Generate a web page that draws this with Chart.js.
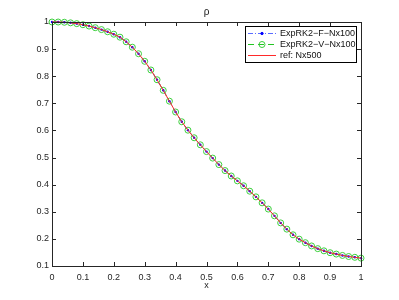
<!DOCTYPE html>
<html lang="en">
<head>
  <meta charset="UTF-8">
  <script src="https://cdn.jsdelivr.net/npm/chart.js"></script>
  <style>
    body { margin: 0; background: #fff; }
    #rho { display: block; }
  </style>
</head>
<body>
  <canvas id="rho" width="399" height="300"></canvas>
<script>
  // x positions and rho values
  const xs = [0, 0.02, 0.04, 0.06, 0.08, 0.1, 0.12, 0.14, 0.16, 0.18,
    0.2, 0.22, 0.24, 0.26, 0.28, 0.3, 0.32, 0.34, 0.36, 0.38,
    0.4, 0.42, 0.44, 0.46, 0.48, 0.5, 0.52, 0.54, 0.56, 0.58,
    0.6, 0.62, 0.64, 0.66, 0.68, 0.7, 0.72, 0.74, 0.76, 0.78,
    0.8, 0.82, 0.84, 0.86, 0.88, 0.9, 0.92, 0.94, 0.96, 0.98, 1];
  const rhoF = [1.000, 1.000, 0.999, 0.997, 0.994, 0.990, 0.985, 0.979, 0.972, 0.964,
    0.955, 0.944, 0.927, 0.907, 0.883, 0.855, 0.823, 0.787, 0.748, 0.708,
    0.668, 0.632, 0.601, 0.573, 0.547, 0.522, 0.498, 0.474, 0.452, 0.432,
    0.414, 0.396, 0.376, 0.355, 0.333, 0.310, 0.285, 0.259, 0.236, 0.215,
    0.199, 0.186, 0.174, 0.164, 0.156, 0.149, 0.144, 0.139, 0.135, 0.132, 0.129];
  const rhoV = [1.000, 1.000, 0.999, 0.997, 0.994, 0.990, 0.985, 0.979, 0.972, 0.964,
    0.955, 0.944, 0.927, 0.907, 0.883, 0.855, 0.823, 0.787, 0.748, 0.708,
    0.668, 0.632, 0.601, 0.573, 0.547, 0.522, 0.498, 0.474, 0.452, 0.432,
    0.414, 0.396, 0.376, 0.355, 0.333, 0.310, 0.285, 0.259, 0.236, 0.215,
    0.199, 0.186, 0.174, 0.164, 0.156, 0.149, 0.144, 0.139, 0.135, 0.132, 0.129];
  const rhoRef = [1.000, 1.000, 0.999, 0.997, 0.994, 0.990, 0.985, 0.979, 0.972, 0.964,
    0.955, 0.944, 0.927, 0.907, 0.883, 0.855, 0.823, 0.787, 0.748, 0.708,
    0.668, 0.632, 0.601, 0.573, 0.547, 0.522, 0.498, 0.474, 0.452, 0.432,
    0.414, 0.396, 0.376, 0.355, 0.333, 0.310, 0.285, 0.259, 0.236, 0.215,
    0.199, 0.186, 0.174, 0.164, 0.156, 0.149, 0.144, 0.139, 0.135, 0.132, 0.129];
  const xTicks = [0, 0.1, 0.2, 0.3, 0.4, 0.5, 0.6, 0.7, 0.8, 0.9, 1];
  const yTicks = [0.1, 0.2, 0.3, 0.4, 0.5, 0.6, 0.7, 0.8, 0.9, 1];
  const labels = ['ExpRK2\u2212F\u2212Nx100', 'ExpRK2\u2212V\u2212Nx100', 'ref: Nx500'];

  const FONT = '"Liberation Sans", Arial, sans-serif';
  const pts = (vals) => vals.map((v, i) => ({ x: xs[i], y: v }));

  // matlab look: box, inward ticks, title, xlabel and legend inside the axes
  const matlabAxes = {
    id: 'matlabAxes',
    afterDraw(chart) {
      const ctx = chart.ctx;
      const { left, right, top, bottom } = chart.chartArea;
      const sx = chart.scales.x, sy = chart.scales.y;
      ctx.save();
      ctx.strokeStyle = '#262626';
      ctx.lineWidth = 1;
      ctx.strokeRect(left + 0.5, top + 0.5, right - left, bottom - top);
      ctx.beginPath();
      xTicks.forEach(t => {
        const px = Math.round(sx.getPixelForValue(t)) + 0.5;
        ctx.moveTo(px, bottom); ctx.lineTo(px, bottom - 4);
        ctx.moveTo(px, top); ctx.lineTo(px, top + 4);
      });
      yTicks.forEach(t => {
        const py = Math.round(sy.getPixelForValue(t)) + 0.5;
        ctx.moveTo(left, py); ctx.lineTo(left + 4, py);
        ctx.moveTo(right, py); ctx.lineTo(right - 4, py);
      });
      ctx.stroke();

      ctx.fillStyle = '#222';
      ctx.textAlign = 'center';
      ctx.textBaseline = 'middle';
      ctx.font = '10px ' + FONT;
      ctx.fillText('\u03c1', (left + right) / 2, 12);
      ctx.font = '9px ' + FONT;
      ctx.fillText('x', (left + right) / 2, 286);

      // legend
      const bx = 245, by = 26, bw = 111, bh = 36;
      ctx.fillStyle = '#fff';
      ctx.fillRect(bx, by, bw, bh);
      ctx.strokeStyle = '#000';
      ctx.strokeRect(bx + 0.5, by + 0.5, bw, bh);
      const rows = [33.5, 44.5, 55.5];
      const ds = chart.data.datasets;
      rows.forEach((ry, i) => {
        const d = ds[i];
        ctx.strokeStyle = d.borderColor;
        ctx.lineWidth = d.borderWidth;
        ctx.setLineDash(d.borderDash || []);
        ctx.beginPath();
        ctx.moveTo(248, ry); ctx.lineTo(276, ry);
        ctx.stroke();
        ctx.setLineDash([]);
        if (d.pointRadius > 0) {
          ctx.beginPath();
          ctx.arc(262, ry, d.pointRadius, 0, Math.PI * 2);
          if (d.pointBackgroundColor !== 'transparent') {
            ctx.fillStyle = d.pointBackgroundColor;
            ctx.fill();
          }
          ctx.strokeStyle = d.pointBorderColor;
          ctx.lineWidth = 1;
          ctx.stroke();
        }
        ctx.fillStyle = '#111';
        ctx.textAlign = 'left';
        ctx.font = '9px ' + FONT;
        ctx.fillText(labels[i], 280, ry);
      });
      ctx.restore();
    }
  };

  new Chart(document.getElementById('rho'), {
    type: 'line',
    data: {
      datasets: [
        {
          label: labels[0],
          data: pts(rhoF),
          borderColor: '#5a6cff',
          borderWidth: 1,
          borderDash: [5, 2, 1, 2],
          pointRadius: 1.2,
          pointBackgroundColor: '#0000ff',
          pointBorderColor: '#0000ff',
          pointBorderWidth: 0,
          clip: false,
          order: 1
        },
        {
          label: labels[1],
          data: pts(rhoV),
          borderColor: '#22c422',
          borderWidth: 1,
          borderDash: [6, 4],
          pointRadius: 3,
          pointBackgroundColor: 'transparent',
          pointBorderColor: '#3ccf3c',
          pointBorderWidth: 1,
          clip: false,
          order: 2
        },
        {
          label: labels[2],
          data: pts(rhoRef),
          borderColor: '#ff2a2a',
          borderWidth: 1,
          pointRadius: 0,
          clip: false,
          order: 0
        }
      ]
    },
    options: {
      responsive: false,
      animation: false,
      layout: { padding: { top: 22, right: 38, left: 0, bottom: 0 } },
      plugins: { legend: { display: false }, tooltip: { enabled: false }, title: { display: false } },
      scales: {
        x: {
          type: 'linear',
          min: 0, max: 1,
          grid: { display: false, drawTicks: false, tickLength: 0 },
          border: { display: false },
          afterFit: (s) => { s.height = 34; },
          afterBuildTicks: (s) => { s.ticks = xTicks.map(v => ({ value: v })); },
          ticks: {
            padding: 6, maxRotation: 0, autoSkip: false,
            color: '#262626', font: { family: FONT, size: 9 },
            callback: (v) => String(Number(v.toFixed(1)))
          }
        },
        y: {
          type: 'linear',
          min: 0.1, max: 1,
          grid: { display: false, drawTicks: false, tickLength: 0 },
          border: { display: false },
          afterFit: (s) => { s.width = 52; },
          afterBuildTicks: (s) => { s.ticks = yTicks.map(v => ({ value: v })); },
          ticks: {
            padding: 3, autoSkip: false,
            color: '#262626', font: { family: FONT, size: 9 },
            callback: (v) => String(Number(v.toFixed(1)))
          }
        }
      }
    },
    plugins: [matlabAxes]
  });
</script>
</body>
</html>
